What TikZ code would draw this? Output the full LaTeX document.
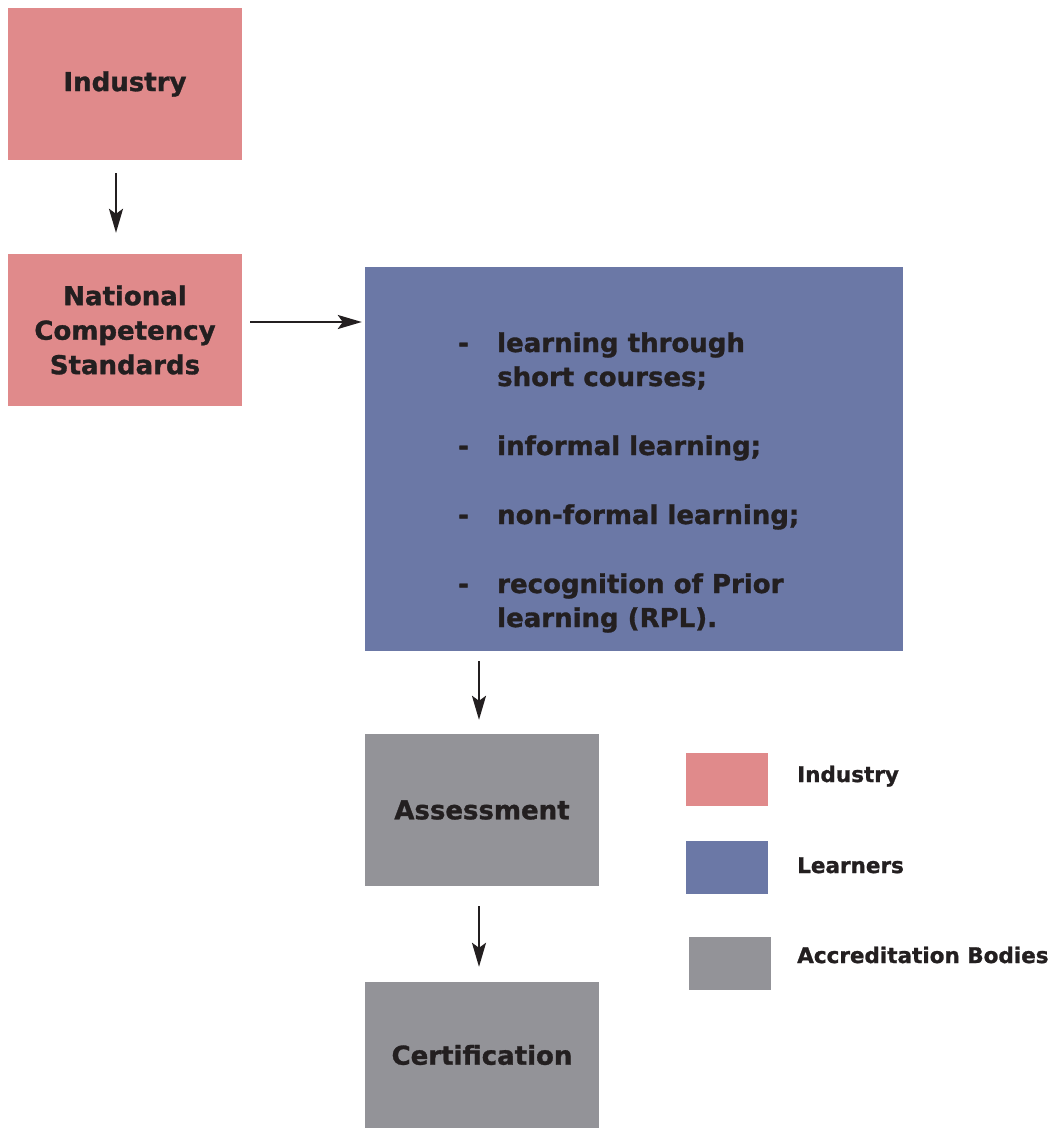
\documentclass[tikz,border=0pt]{standalone}
\usepackage{fontspec}
\setmainfont{DejaVu Sans}[BoldFeatures={FakeBold=1.2}]
\usetikzlibrary{arrows.meta}
\definecolor{pinkc}{HTML}{E08A8B}
\definecolor{bluec}{HTML}{6B78A6}
\definecolor{grayc}{HTML}{939398}
\definecolor{txt}{HTML}{231F20}
\tikzset{
  box/.style={draw=none, inner sep=0pt, text=txt, align=center, font=\fontsize{26}{34.5}\selectfont\bfseries},
  arr/.style={draw=txt, line width=2.2pt, -{Stealth[length=24pt,width=14pt,inset=5pt]}},
  itemtxt/.style={anchor=base west, inner sep=0pt, text=txt, font=\fontsize{26}{34}\selectfont\bfseries},
  legtxt/.style={anchor=base west, inner sep=0pt, text=txt, font=\fontsize{21.5}{25}\selectfont\bfseries},
  legbox/.style={draw=none, minimum width=82pt, minimum height=53pt, inner sep=0pt}
}
\begin{document}
\begin{tikzpicture}[x=1pt,y=-1pt]
\useasboundingbox (0,0) rectangle (1052,1129);
\node[box, fill=pinkc, minimum width=234pt, minimum height=152pt] (ind) at (125,84) {Industry};
\node[box, fill=pinkc, minimum width=234pt, minimum height=152pt] (ncs) at (125,330) {National\\Competency\\Standards};
\node[box, fill=bluec, minimum width=538pt, minimum height=384pt] (lrn) at (634,459) {};
\node[box, fill=grayc, minimum width=234pt, minimum height=152pt] (ass) at (482,810) {Assessment};
\node[box, fill=grayc, minimum width=234pt, minimum height=146pt] (cert) at (482,1055) {Certification};
% items
\node[itemtxt] (d1) at (458,352) {-};
\node[itemtxt] (t1) at (497,352) {learning through};
\node[itemtxt] (t1b) at (497,386) {short courses;};
\node[itemtxt] (d2) at (458,455) {-};
\node[itemtxt] (t2) at (497,455) {informal learning;};
\node[itemtxt] (d3) at (458,524) {-};
\node[itemtxt] (t3) at (497,524) {non-formal learning;};
\node[itemtxt] (d4) at (458,593) {-};
\node[itemtxt] (t4) at (497,593) {recognition of Prior};
\node[itemtxt] (t4b) at (497,627) {learning (RPL).};
% arrows
\draw[arr] (ind.south -| 116,0) ++(0,13) -- ([yshift=21pt]ncs.north -| 116,0);
\draw[arr] ([xshift=8pt]ncs.east |- 0,322) -- ([xshift=-3pt]lrn.west |- 0,322);
\draw[arr] (lrn.south -| 479,0) ++(0,10) -- ([yshift=14pt]ass.north -| 479,0);
\draw[arr] (ass.south -| 479,0) ++(0,20) -- ([yshift=15pt]cert.north -| 479,0);
% legend
\node[legbox, fill=pinkc] (l1) at (727,779.5) {};
\node[legbox, fill=bluec] (l2) at (727,867.5) {};
\node[legbox, fill=grayc] (l3) at (730,963.5) {};
\node[legtxt] (lt1) at (797,782) {Industry};
\node[legtxt] (lt2) at (797,873) {Learners};
\node[legtxt] (lt3) at (797,963) {Accreditation Bodies};
\end{tikzpicture}
\end{document}
